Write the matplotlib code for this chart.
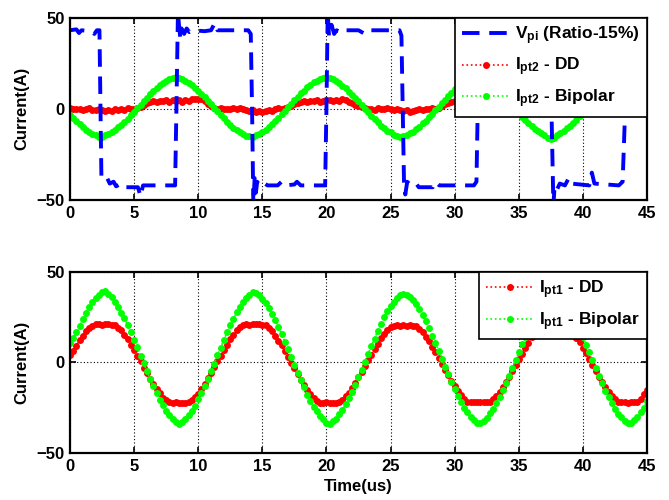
import numpy as np
import matplotlib
matplotlib.use("Agg")
import matplotlib.pyplot as plt

plt.rcParams['font.family'] = ['Liberation Sans', 'DejaVu Sans']
plt.rcParams['font.weight'] = 'bold'
plt.rcParams['mathtext.fontset'] = 'custom'
plt.rcParams['mathtext.rm'] = 'Liberation Sans:bold'
plt.rcParams['mathtext.it'] = 'Liberation Sans:bold'
plt.rcParams['mathtext.bf'] = 'Liberation Sans:bold'

# time axis, one sample every 0.25 us
time_us = np.linspace(0, 45, 181)

# top panel: Ipt2
ipt2_dd = [
    0.5, -0.2, -0.4, 0.1, -0.6, -0.3, 0.3, -0.5, -0.8, -0.3,
    -0.9, -1.4, -0.6, -1.2, -0.4, -0.8, -0.1, -0.5, 0.2, -0.3,
    0.1, 0.4, 1.2, 2.1, 3.0, 3.8, 4.1, 3.6, 4.4, 4.0,
    4.6, 3.9, 4.8, 4.3, 5.0, 3.5, 4.6, 4.2, 5.1, 5.4,
    5.6, 5.2, 4.3, 2.6, 1.4, 0.3, -0.2, 0.4, -0.3, 0.1,
    -0.4, 0.2, -0.1, 0.5, -0.2, -0.6, -1.3, -0.8, -1.6, -1.1,
    -1.7, -1.2, -0.5, -1.5, -0.4, 0.2, -0.3, 0.4, 0.8, 1.6,
    2.5, 3.3, 3.9, 4.2, 3.6, 4.5, 4.1, 4.7, 3.8, 4.4,
    4.6, 5.0, 4.2, 4.8, 4.0, 5.2, 4.6, 3.9, 3.4, 2.2,
    1.5, 0.8, 0.2, -0.3, 0.1, -0.5, 0.2, -0.2, -0.4, 0.3,
    -0.1, -0.5, -0.3, -0.8, -1.4, -0.9, -1.7, -1.2, -0.6, -0.3,
    -0.7, 0.1, -0.4, 0.3, 0.1, 0.6, 1.5, 2.4, 3.3, 3.9,
    4.3, 4.0, 4.7, 4.2, 4.9, 4.4, 5.1, 4.6, 4.3, 5.0,
    4.5, 4.8, 4.1, 3.9, 3.6, 3.2, 2.4, 1.6, 0.7, 0.2,
    -0.3, 0.1, -0.5, -0.2, -0.8, -0.4, -1.1, -0.6, -1.3, -0.9,
    -0.5, -1.0, -0.3, -0.7, 0.2, -0.4, 0.1, -0.2, 0.3, -0.1,
    0.2, 0.4, 0.9, 1.7, 2.6, 3.5, 4.0, 4.4, 3.8, 4.6,
    4.3, 4.9, 4.5, 5.0, 4.6, 4.2, 5.1, 4.7, 4.9, 5.2,
    5.0]

ipt2_bp = [
    -3.4, -5.1, -6.7, -8.6, -9.9, -11.5, -12.5, -13.8, -14.5, -15.3,
    -15.4, -14.6, -14.0, -12.8, -11.8, -10.2, -8.9, -7.0, -5.5, -3.4,
    -1.7, 0.5, 2.3, 4.4, 6.1, 8.2, 9.7, 11.5, 12.8, 14.3,
    15.2, 16.3, 16.9, 17.6, 17.1, 16.1, 15.4, 14.1, 13.0, 11.3,
    9.9, 8.0, 6.3, 4.2, 2.5, 0.3, -1.5, -3.6, -5.3, -7.2,
    -8.7, -10.4, -11.6, -13.0, -13.8, -14.8, -15.2, -15.3, -14.5, -13.8,
    -12.5, -11.5, -9.9, -8.6, -6.7, -5.1, -3.0, -1.3, 0.9, 2.7,
    4.8, 6.5, 8.5, 10.0, 11.8, 13.1, 14.5, 15.4, 16.5, 17.0,
    17.5, 16.7, 16.2, 15.0, 14.0, 12.5, 11.2, 9.3, 7.8, 5.8,
    4.0, 1.9, 0.1, -2.0, -3.8, -5.8, -7.4, -9.2, -10.5, -12.0,
    -13.0, -14.2, -14.7, -15.5, -15.0, -14.5, -13.4, -12.5, -11.1, -9.8,
    -8.0, -6.5, -4.5, -2.8, -0.7, 1.1, 3.3, 5.0, 7.1, 8.7,
    10.6, 11.9, 13.5, 14.5, 15.8, 16.5, 17.3, 17.2, 16.8, 15.8,
    15.0, 13.6, 12.4, 10.7, 9.2, 7.3, 5.6, 3.5, 1.7, -0.5,
    -2.2, -4.3, -6.0, -7.9, -9.3, -11.0, -12.1, -13.4, -14.3, -15.8,
    -16.8, -16.0, -14.4, -13.2, -12.3, -10.8, -9.5, -7.7, -6.2, -4.1,
    -2.4, -0.3, 1.5, 3.7, 5.4, 7.5, 9.0, 10.9, 12.2, 13.8,
    14.8, 16.0, 16.6, 17.4, 17.1, 16.7, 15.6, 14.7, 13.3, 12.1,
    10.4]

# Vpi square wave, corner points of the trace (time, value)
vpi_t = [0, 0.5, 0.7, 0.9, 1.6, 1.9, 2.1, 2.3, 2.38, 2.45, 2.6, 2.9, 3.1,
         3.4, 3.6, 4.0, 4.3, 5.3, 5.5, 5.7, 8.2, 8.3, 8.42, 8.5, 8.6, 8.7,
         8.9, 9.1, 9.3, 9.6, 10.5, 11.0, 11.3, 11.5, 13.9, 14.1, 14.2, 14.3,
         14.4, 14.5, 14.6, 14.8, 15.1, 15.4, 16.2, 16.5, 16.8, 17.5, 17.7,
         18.0, 19.9, 20.0, 20.1, 20.2, 20.4, 20.6, 20.8, 21.2, 21.5, 22.5,
         23.0, 23.3, 25.7, 25.85, 25.95, 26.05, 26.15, 26.3, 26.6, 27.0,
         27.2, 28.3, 28.5, 28.8, 31.5, 31.7, 31.8, 31.9, 37.4, 37.55, 37.7,
         37.8, 38.0, 38.2, 38.6, 38.9, 39.1, 40.5, 40.7, 40.9, 42.8, 43.1,
         43.3, 43.45, 45.0]
vpi_v = [43, 43.5, 41.5, 43, 42.5, 41, 43, 43, 0, -37, -39, -38, -41,
         -40, -42.5, -41, -43, -43, -48, -42, -42, 0, 53, 46, 39, 44,
         41, 44, 42, 43, 42.5, 43, 47, 43, 43, 41, 0, -53,
         -38, -46, -40, -42, -40.5, -42, -42, -40, -42, -41.5, -40,
         -42, -42, 0, 53, 40, 46, 41, 43, 41.5, 43, 43,
         41, 43, 43, 40, 0, -40, -47, -40, -42, -41,
         -43, -43, -40, -42, -42, -40, 0, 43, 43, 0, -53,
         -42, -44, -41, -42, -38, -41, -42, -35, -41, -42, -40,
         0, 43, 43]

# bottom panel: Ipt1
ipt1_dd = [
    4.2, 6.3, 9.1, 12.2, 14.6, 17.1, 18.9, 20.3, 20.9, 21.2,
    20.8, 21.1, 21.0, 20.6, 20.8, 19.2, 17.6, 15.0, 12.8, 9.6,
    6.9, 3.5, 0.6, -2.9, -5.8, -9.1, -11.8, -14.8, -17.0, -19.4,
    -21.0, -22.0, -22.4, -22.1, -22.5, -22.2, -22.4, -21.9, -21.0, -19.2,
    -17.2, -14.6, -12.0, -8.9, -6.0, -2.7, 0.6, 3.6, 6.9, 9.7,
    12.7, 15.1, 17.6, 19.3, 20.8, 21.1, 20.7, 21.2, 20.9, 21.0,
    20.8, 20.6, 19.0, 17.1, 14.8, 12.0, 9.3, 6.1, 3.1, -0.2,
    -3.3, -6.6, -9.5, -12.6, -15.1, -17.7, -19.6, -21.4, -22.2, -22.4,
    -22.1, -22.3, -22.5, -22.2, -22.0, -20.9, -18.8, -16.7, -14.0, -11.4,
    -8.3, -5.4, -2.0, 1.2, 4.2, 7.5, 10.3, 13.2, 15.6, 17.8,
    19.7, 20.2, 20.4, 20.3, 20.5, 20.2, 20.4, 20.3, 20.1, 18.6,
    16.7, 14.1, 11.6, 8.5, 5.6, 2.3, -0.7, -4.1, -7.1, -10.3,
    -13.0, -15.8, -17.9, -20.2, -21.6, -22.0, -21.8, -22.1, -21.9, -22.0,
    -21.8, -21.9, -20.3, -18.6, -16.1, -13.7, -10.7, -7.9, -4.6, -1.6,
    1.9, 4.8, 8.1, 10.8, 13.8, 16.0, 18.4, 20.0, 20.3, 20.2,
    20.4, 20.3, 20.2, 20.4, 20.1, 20.0, 18.2, 16.2, 13.5, 11.0,
    7.9, 5.0, 1.7, -1.6, -4.6, -7.9, -10.7, -13.7, -16.1, -18.6,
    -20.3, -21.8, -22.1, -21.9, -22.2, -22.0, -21.8, -21.6, -20.0, -17.6,
    -15.0]

ipt1_bp = [
    10.4, 13.2, 16.6, 20.1, 23.9, 27.3, 30.4, 33.1, 35.4, 37.2,
    38.6, 39.3, 37.6, 36.0, 33.4, 30.7, 27.4, 24.2, 20.4, 16.7,
    12.3, 8.3, 3.7, -0.5, -5.0, -9.0, -13.3, -16.9, -20.7, -23.7,
    -26.8, -29.0, -31.3, -32.7, -34.0, -32.9, -31.1, -29.2, -26.6, -23.9,
    -20.4, -17.1, -13.0, -9.2, -4.7, -0.7, 3.9, 8.1, 12.5, 16.5,
    20.6, 24.0, 27.6, 30.5, 33.3, 35.4, 37.4, 38.7, 38.3, 36.9,
    35.1, 32.6, 30.1, 26.7, 23.5, 19.6, 15.8, 11.5, 7.4, 2.9,
    -1.5, -5.6, -10.0, -13.8, -17.8, -21.1, -24.5, -27.1, -29.7, -31.5,
    -33.2, -33.8, -32.4, -31.0, -28.6, -26.2, -23.1, -19.9, -16.1, -12.4,
    -8.1, -4.1, 0.4, 4.6, 9.1, 13.1, 17.4, 21.1, 24.9, 28.1,
    31.0, 33.5, 35.6, 36.9, 37.6, 37.3, 36.2, 34.5, 32.3, 29.3,
    26.3, 22.6, 19.0, 14.8, 10.8, 6.3, 2.1, -2.4, -6.5, -10.8,
    -14.6, -18.5, -21.8, -25.1, -27.6, -30.1, -31.8, -33.4, -33.7, -32.1,
    -30.5, -28.1, -25.6, -22.4, -19.2, -15.4, -11.6, -7.3, -3.3, 1.3,
    5.5, 10.0, 14.0, 18.3, 21.9, 25.7, 28.7, 31.8, 34.0, 36.1,
    37.5, 38.0, 37.3, 36.1, 34.2, 31.6, 28.9, 25.4, 22.1, 18.0,
    14.2, 9.7, 5.7, 1.1, -3.1, -7.5, -11.4, -15.6, -19.0, -22.6,
    -25.5, -28.3, -30.4, -32.3, -33.5, -33.4, -31.8, -30.1, -27.6, -25.1,
    -21.5]

xticks = [0, 5, 10, 15, 20, 25, 30, 35, 40, 45]
yticks = [-50, 0, 50]

fig = plt.figure(figsize=(6.69, 5.0), dpi=100)
ax1 = fig.add_axes([0.1046, 0.600, 0.8625, 0.365])
ax2 = fig.add_axes([0.1046, 0.094, 0.8625, 0.3626])

leg_font = dict(family='Liberation Sans', weight='bold', size=12.5)
mk = dict(marker='o', ms=5, mew=0, lw=1.2)


def style_axes(ax):
    ax.set_xlim(0, 45)
    ax.set_ylim(-50, 50)
    ax.set_xticks(xticks)
    ax.set_yticks(yticks)
    ax.grid(True, color='black', linestyle=(0, (1, 2)), linewidth=0.8)
    ax.set_axisbelow(True)
    ax.tick_params(direction='in', length=4, width=1.2, top=True, right=True,
                   labelsize=12, pad=4)
    for lab in ax.get_xticklabels() + ax.get_yticklabels():
        lab.set_fontweight('bold')
    for sp in ax.spines.values():
        sp.set_linewidth(1.6)
    ax.set_ylabel('Current(A)', fontsize=12, fontweight='bold', labelpad=5)


# top panel
h_dd2, = ax1.plot(time_us, ipt2_dd, ':', color='red', **mk)
h_bp2, = ax1.plot(time_us, ipt2_bp, ':', color='#00ff00', **mk)
h_v, = ax1.plot(vpi_t, vpi_v, color='blue', lw=2.8, dashes=(4.5, 2.5))
style_axes(ax1)
leg1 = ax1.legend([h_v, h_dd2, h_bp2],
                  ['V$_{pi}$ (Ratio-15%)', 'I$_{pt2}$ - DD', 'I$_{pt2}$ - Bipolar'],
                  loc='upper right', borderaxespad=0, fancybox=False, framealpha=1,
                  edgecolor='black', prop=leg_font, handlelength=2.8,
                  handletextpad=0.3, borderpad=0.4, labelspacing=0.5, numpoints=1)
leg1.get_frame().set_linewidth(1.2)

# bottom panel
h_dd1, = ax2.plot(time_us, ipt1_dd, ':', color='red', **mk)
h_bp1, = ax2.plot(time_us, ipt1_bp, ':', color='#00ff00', **mk)
style_axes(ax2)
ax2.set_xlabel('Time(us)', fontsize=12, fontweight='bold', labelpad=4)
leg2 = ax2.legend([h_dd1, h_bp1], ['I$_{pt1}$ - DD', 'I$_{pt1}$ - Bipolar'],
                  loc='upper right', borderaxespad=0, fancybox=False, framealpha=1,
                  edgecolor='black', prop=leg_font, handlelength=2.8,
                  handletextpad=0.3, borderpad=0.4, labelspacing=0.5, numpoints=1)
leg2.get_frame().set_linewidth(1.2)

fig.savefig('out.png', dpi=100)
